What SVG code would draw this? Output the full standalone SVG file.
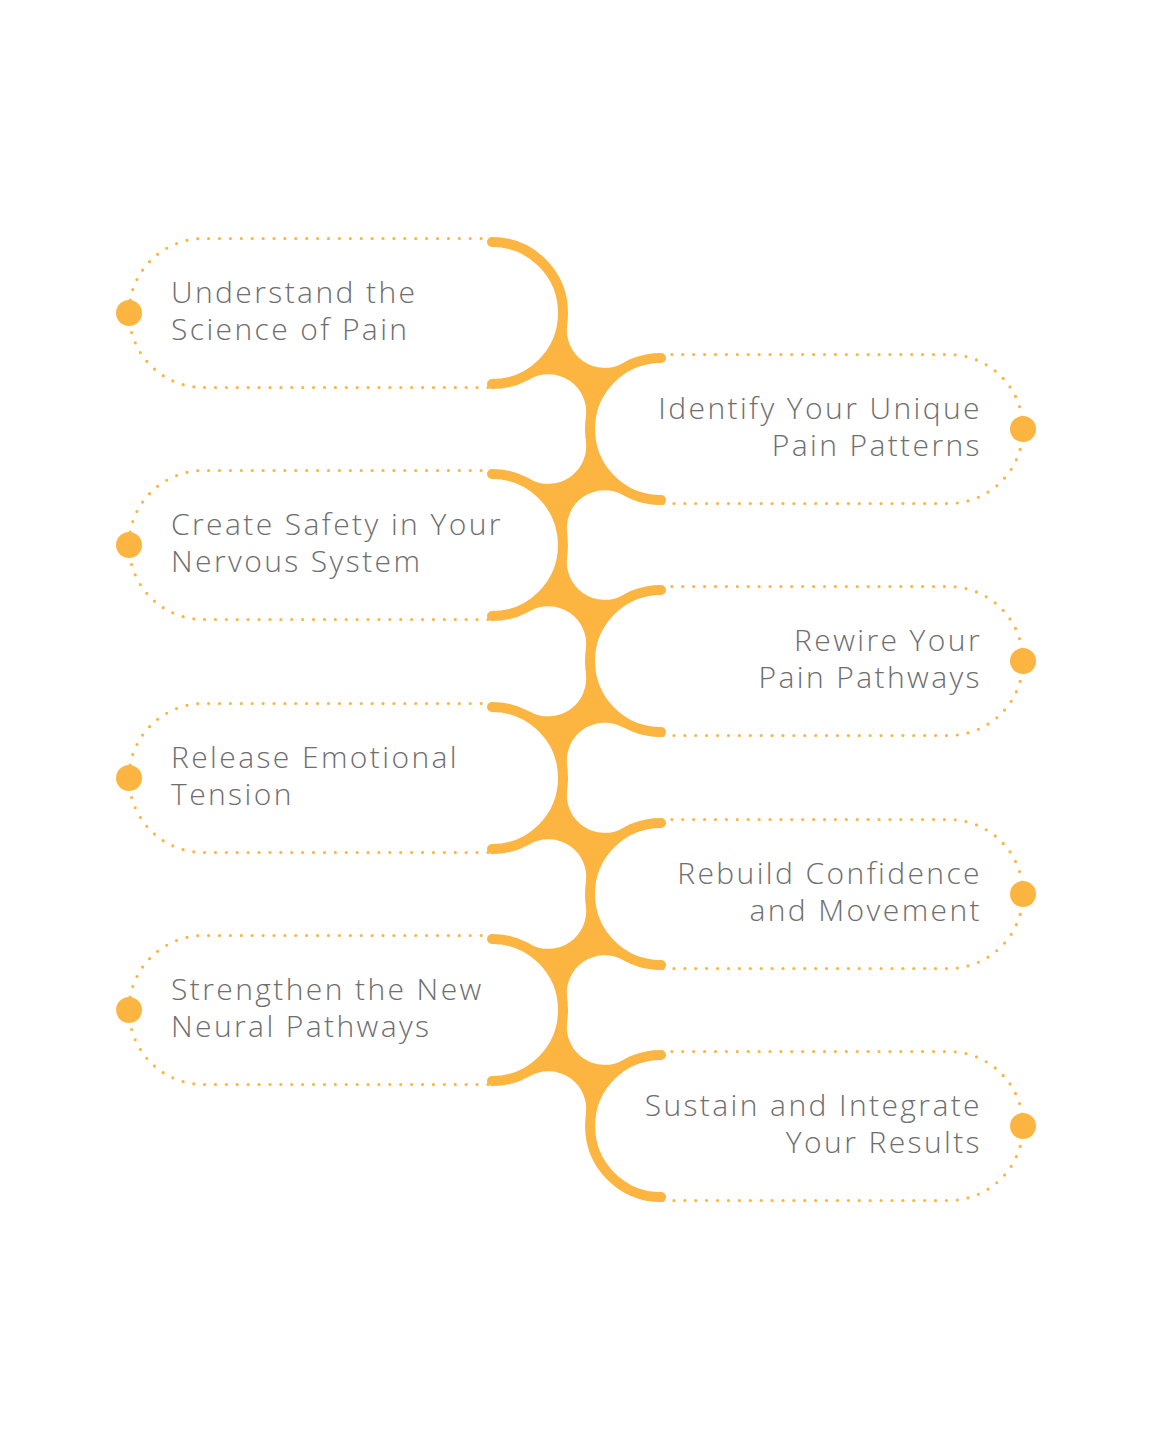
<svg xmlns="http://www.w3.org/2000/svg" xmlns:xlink="http://www.w3.org/1999/xlink" width="1152" height="1440" viewBox="0 0 1152 1440">
<style>
.dots{fill:none;stroke:#FBB540;stroke-width:3.2;stroke-linecap:round;stroke-dasharray:0 10.9}
.dot{fill:#FBB540}
.arc{fill:none;stroke:#FBB540;stroke-width:10;stroke-linecap:round}
.junc{fill:#FBB540}
.lbl{font-family:"Open Sans","Liberation Sans",sans-serif;font-size:30px;fill:#6e6e6e;font-weight:300;letter-spacing:2.4px}
.r{text-anchor:end}
</style>
<defs>
<path id="jA" d="M -9.33 -46.77 A 38 38 0 0 0 47.0 -8.11 L 49.96 -2.89 A 70 70 0 0 0 15.26 47.66 L 9.33 46.77 A 38 38 0 0 0 -47.0 8.11 L -49.96 2.89 A 70 70 0 0 0 -15.26 -47.66 Z"/>
</defs>
<rect width="1152" height="1440" fill="#ffffff"/>
<g id="node-1">
<path class="dots" d="M 492 238.5 H 203.5 A 74.5 74.5 0 0 0 203.5 387.5 H 492"/>
<circle class="dot" cx="129" cy="313" r="13"/>
<text class="lbl" x="171" y="303">Understand the</text>
<text class="lbl" x="171" y="339.5">Science of Pain</text>
</g>
<g id="node-2">
<path class="dots" d="M 661 354.5 H 948.5 A 74.5 74.5 0 0 1 948.5 503.5 H 661"/>
<circle class="dot" cx="1023" cy="429" r="13"/>
<text class="lbl r" x="982" y="419">Identify Your Unique</text>
<text class="lbl r" x="982" y="455.5">Pain Patterns</text>
</g>
<g id="node-3">
<path class="dots" d="M 492 470.5 H 203.5 A 74.5 74.5 0 0 0 203.5 619.5 H 492"/>
<circle class="dot" cx="129" cy="545" r="13"/>
<text class="lbl" x="171" y="535">Create Safety in Your</text>
<text class="lbl" x="171" y="571.5">Nervous System</text>
</g>
<g id="node-4">
<path class="dots" d="M 661 586.5 H 948.5 A 74.5 74.5 0 0 1 948.5 735.5 H 661"/>
<circle class="dot" cx="1023" cy="661" r="13"/>
<text class="lbl r" x="982" y="651">Rewire Your</text>
<text class="lbl r" x="982" y="687.5">Pain Pathways</text>
</g>
<g id="node-5">
<path class="dots" d="M 492 703.5 H 203.5 A 74.5 74.5 0 0 0 203.5 852.5 H 492"/>
<circle class="dot" cx="129" cy="778" r="13"/>
<text class="lbl" x="171" y="768">Release Emotional</text>
<text class="lbl" x="171" y="804.5">Tension</text>
</g>
<g id="node-6">
<path class="dots" d="M 661 819.5 H 948.5 A 74.5 74.5 0 0 1 948.5 968.5 H 661"/>
<circle class="dot" cx="1023" cy="894" r="13"/>
<text class="lbl r" x="982" y="884">Rebuild Confidence</text>
<text class="lbl r" x="982" y="920.5">and Movement</text>
</g>
<g id="node-7">
<path class="dots" d="M 492 935.5 H 203.5 A 74.5 74.5 0 0 0 203.5 1084.5 H 492"/>
<circle class="dot" cx="129" cy="1010" r="13"/>
<text class="lbl" x="171" y="1000">Strengthen the New</text>
<text class="lbl" x="171" y="1036.5">Neural Pathways</text>
</g>
<g id="node-8">
<path class="dots" d="M 661 1051.5 H 948.5 A 74.5 74.5 0 0 1 948.5 1200.5 H 661"/>
<circle class="dot" cx="1023" cy="1126" r="13"/>
<text class="lbl r" x="982" y="1116">Sustain and Integrate</text>
<text class="lbl r" x="982" y="1152.5">Your Results</text>
</g>
<g id="connectors">
<use class="junc" href="#jA" xlink:href="#jA" transform="translate(576.5,371)"/>
<use class="junc" href="#jA" xlink:href="#jA" transform="translate(576.5,603)"/>
<use class="junc" href="#jA" xlink:href="#jA" transform="translate(576.5,836)"/>
<use class="junc" href="#jA" xlink:href="#jA" transform="translate(576.5,1068)"/>
<use class="junc" href="#jA" xlink:href="#jA" transform="translate(576.5,487) scale(-1,1)"/>
<use class="junc" href="#jA" xlink:href="#jA" transform="translate(576.5,719.5) scale(-1,1)"/>
<use class="junc" href="#jA" xlink:href="#jA" transform="translate(576.5,952) scale(-1,1)"/>
<path class="arc" d="M 492 242 A 71 71 0 0 1 492 384"/>
<path class="arc" d="M 492 474 A 71 71 0 0 1 492 616"/>
<path class="arc" d="M 492 707 A 71 71 0 0 1 492 849"/>
<path class="arc" d="M 492 939 A 71 71 0 0 1 492 1081"/>
<path class="arc" d="M 661 358 A 71 71 0 0 0 661 500"/>
<path class="arc" d="M 661 590 A 71 71 0 0 0 661 732"/>
<path class="arc" d="M 661 823 A 71 71 0 0 0 661 965"/>
<path class="arc" d="M 661 1055 A 71 71 0 0 0 661 1197"/>
</g>
</svg>
